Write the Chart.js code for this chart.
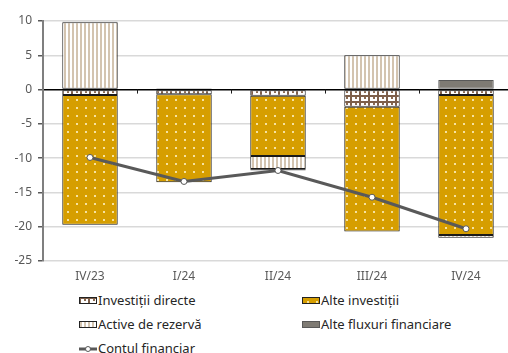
<!DOCTYPE html>
<html>
<head>
<meta charset="utf-8">
<script src="https://cdn.jsdelivr.net/npm/chart.js@4"></script>
<style>
    html, body { margin: 0; padding: 0; background: #fff; overflow: hidden; }
    body { width: 508px; height: 353px; position: relative; font-family: "Noto Sans", sans-serif; }
    #wrap { position: absolute; left: 0; top: 0; width: 518px; height: 290px; }
    .leg { position: absolute; font-size: 13px; color: #262626; line-height: 16px; white-space: nowrap; }
    .sw { display: inline-block; width: 18px; height: 7px; vertical-align: 1px; margin-right: 1px; box-sizing: border-box; border: 1px solid #222; }
</style>
</head>
<body>
<div id="wrap"><canvas id="chart"></canvas></div>

<div class="leg" style="left:79px; top:292px"><span class="sw" id="swDir"></span>Investiții directe</div>
<div class="leg" style="left:302px; top:292px"><span class="sw" id="swAlte"></span>Alte investiții</div>
<div class="leg" style="left:79px; top:316px"><span class="sw" id="swRez"></span>Active de rezervă</div>
<div class="leg" style="left:302px; top:316px"><span class="sw" style="background:#7f7b74;border-color:#595959"></span>Alte fluxuri financiare</div>
<div class="leg" style="left:79px; top:340px"><canvas id="swLine" width="18" height="10" style="vertical-align:-1px;margin-right:1px"></canvas>Contul financiar</div>

<script>
// ---- data (quarterly flows) ----
const quarters = ['IV/23', 'I/24', 'II/24', 'III/24', 'IV/24'];
const investitiiDirecte = [-0.8, -0.7, -0.9, -2.5, -0.8];
const alteInvestitii = [-18.9, -12.8, -8.8, -18.2, -20.4];
const activeRezerva = [9.8, 0, -1.9, 5.0, -0.4];
const alteFluxuri = [0.1, 0.2, -0.2, 0, 1.4];
const contulFinanciar = [-9.9, -13.4, -11.8, -15.7, -20.3];
const yTicks = [10, 5, 0, -5, -10, -15, -20, -25];

// small tiles used as fill patterns
function makeTile(w, h, draw) {
    const c = document.createElement('canvas');
    c.width = w; c.height = h;
    draw(c.getContext('2d'));
    return c;
}

const tileDir = makeTile(9, 6, g => {
    g.fillStyle = '#7d5f4a'; g.fillRect(0, 0, 9, 6);
    g.fillStyle = '#ffffff'; g.fillRect(1, 1, 7, 4);
    g.fillStyle = '#8a6a52'; g.fillRect(4, 1, 2, 2);
});
const tileAlte = makeTile(9, 8, g => {
    g.fillStyle = '#d69e00'; g.fillRect(0, 0, 9, 8);
    g.fillStyle = '#f6e2a0'; g.fillRect(4, 3, 2, 2);
});
const tileRez = makeTile(4, 4, g => {
    g.fillStyle = '#ffffff'; g.fillRect(0, 0, 4, 4);
    g.fillStyle = '#d3c4b0'; g.fillRect(0, 0, 2, 4);
});

const ctx = document.getElementById('chart').getContext('2d');
const pat = t => ctx.createPattern(t, 'repeat');

document.getElementById('swDir').style.background = `url(${tileDir.toDataURL()})`;
document.getElementById('swAlte').style.background = `url(${tileAlte.toDataURL()})`;
document.getElementById('swRez').style.background = `url(${tileRez.toDataURL()})`;

// legend swatch for the line
(() => {
    const g = document.getElementById('swLine').getContext('2d');
    g.strokeStyle = '#595959'; g.lineWidth = 3;
    g.beginPath(); g.moveTo(0, 5); g.lineTo(18, 5); g.stroke();
    g.fillStyle = '#fff'; g.lineWidth = 1;
    g.beginPath(); g.arc(9, 5, 2.5, 0, Math.PI * 2); g.fill(); g.stroke();
})();

// small tick marks on the zero line between categories
const zeroTicks = {
    id: 'zeroTicks',
    afterDatasetsDraw(chart) {
        const x = chart.scales.x, y = chart.scales.y;
        const y0 = y.getPixelForValue(0);
        const g = chart.ctx;
        g.save();
        g.strokeStyle = '#1a1a1a';
        g.lineWidth = 1;
        for (let i = 1; i < quarters.length; i++) {
            const px = Math.round((x.getPixelForValue(i - 1) + x.getPixelForValue(i)) / 2) + 0.5;
            g.beginPath(); g.moveTo(px, y0); g.lineTo(px, y0 + 4); g.stroke();
        }
        g.restore();
    }
};

const barCommon = {
    type: 'bar',
    stack: 'flows',
    order: 1,
    borderColor: '#1a1a1a',
    borderWidth: 1,
    borderSkipped: false,
    barPercentage: 0.59,
    categoryPercentage: 1
};

new Chart(ctx, {
    data: {
        labels: quarters,
        datasets: [
            { ...barCommon, label: 'Investiții directe', data: investitiiDirecte, backgroundColor: pat(tileDir) },
            { ...barCommon, label: 'Alte investiții', data: alteInvestitii, backgroundColor: pat(tileAlte) },
            { ...barCommon, label: 'Active de rezervă', data: activeRezerva, backgroundColor: pat(tileRez) },
            { ...barCommon, label: 'Alte fluxuri financiare', data: alteFluxuri, backgroundColor: '#7f7b74', borderColor: '#595959' },
            {
                type: 'line',
                label: 'Contul financiar',
                data: contulFinanciar,
                stack: 'line',
                order: 0,
                borderColor: '#595959',
                borderWidth: 3,
                pointRadius: 3,
                pointBorderWidth: 1,
                pointBackgroundColor: '#ffffff',
                pointBorderColor: '#595959',
                tension: 0
            }
        ]
    },
    options: {
        responsive: true,
        maintainAspectRatio: false,
        animation: false,
        layout: { padding: { top: 21, left: 0, right: 2, bottom: 7 } },
        plugins: {
            legend: { display: false },
            tooltip: { enabled: false }
        },
        scales: {
            x: {
                stacked: true,
                grid: { display: false, drawTicks: false },
                border: { display: false },
                ticks: { color: '#595959', font: { family: 'Noto Sans', size: 12 }, padding: 8 },
                afterFit: s => { s.height = 22; }
            },
            y: {
                stacked: true,
                min: -25,
                max: 10,
                afterBuildTicks: s => { s.ticks = yTicks.map(v => ({ value: v })); },
                afterFit: s => { s.width = 43; },
                grid: {
                    color: c => c.tick && c.tick.value === 0 ? '#000000' : '#d9d9d9',
                    lineWidth: 1.5,
                    tickColor: '#595959',
                    tickLength: 5
                },
                border: { color: '#7f7f7f', width: 2 },
                ticks: { color: '#595959', font: { family: 'Noto Sans', size: 12 }, padding: 6 }
            }
        }
    },
    plugins: [zeroTicks]
});
</script>
</body>
</html>
